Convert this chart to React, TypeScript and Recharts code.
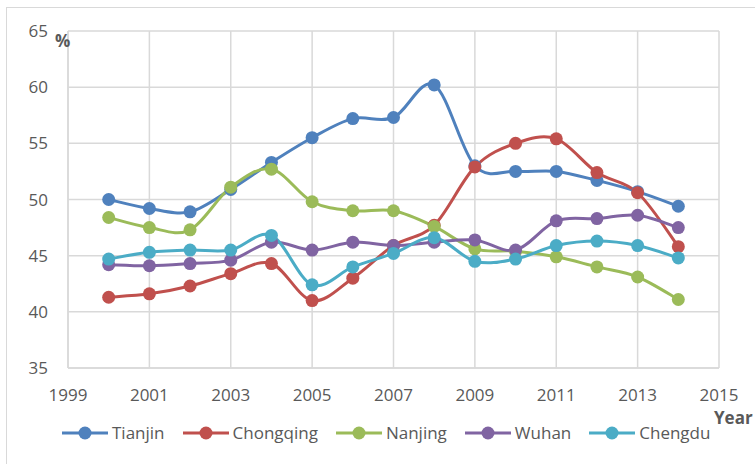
import { LineChart, Line, XAxis, YAxis, CartesianGrid } from 'recharts';

const years = [2000, 2001, 2002, 2003, 2004, 2005, 2006, 2007, 2008, 2009, 2010, 2011, 2012, 2013, 2014];
const tianjin = [50.0, 49.2, 48.9, 50.9, 53.3, 55.5, 57.2, 57.3, 60.2, 53.0, 52.5, 52.5, 51.7, 50.7, 49.4];
const chongqing = [41.3, 41.6, 42.3, 43.4, 44.3, 41.0, 43.0, 45.9, 47.7, 52.9, 55.0, 55.4, 52.4, 50.6, 45.8];
const nanjing = [48.4, 47.5, 47.3, 51.1, 52.7, 49.8, 49.0, 49.0, 47.6, 45.6, 45.4, 44.9, 44.0, 43.1, 41.1];
const wuhan = [44.2, 44.1, 44.3, 44.6, 46.2, 45.5, 46.2, 45.9, 46.2, 46.4, 45.5, 48.1, 48.3, 48.6, 47.5];
const chengdu = [44.7, 45.3, 45.5, 45.5, 46.8, 42.4, 44.0, 45.2, 46.6, 44.5, 44.7, 45.9, 46.3, 45.9, 44.8];

const xTicks = [1999, 2001, 2003, 2005, 2007, 2009, 2011, 2013, 2015];
const yTicks = [35, 40, 45, 50, 55, 60, 65];

const series = [
  { key: 'tianjin', name: 'Tianjin', color: '#4F81BD' },
  { key: 'chongqing', name: 'Chongqing', color: '#C0504D' },
  { key: 'nanjing', name: 'Nanjing', color: '#9BBB59' },
  { key: 'wuhan', name: 'Wuhan', color: '#8064A2' },
  { key: 'chengdu', name: 'Chengdu', color: '#4BACC6' },
];

const data = years.map((year, i) => ({
  year,
  tianjin: tianjin[i],
  chongqing: chongqing[i],
  nanjing: nanjing[i],
  wuhan: wuhan[i],
  chengdu: chengdu[i],
}));

const FONT = '"Open Sans", sans-serif';
const TEXT = '#595959';

// smoothing like Excel: catmull-rom segments through every point
const excelSmooth = (context: any) => {
  let pts: [number, number][] = [];
  return {
    areaStart() {},
    areaEnd() {},
    lineStart() {
      pts = [];
    },
    lineEnd() {
      if (!pts.length) return;
      context.moveTo(pts[0][0], pts[0][1]);
      for (let i = 0; i < pts.length - 1; i++) {
        const p0 = pts[i - 1] || pts[i];
        const p1 = pts[i];
        const p2 = pts[i + 1];
        const p3 = pts[i + 2] || p2;
        context.bezierCurveTo(
          p1[0] + (p2[0] - p0[0]) / 6,
          p1[1] + (p2[1] - p0[1]) / 6,
          p2[0] - (p3[0] - p1[0]) / 6,
          p2[1] - (p3[1] - p1[1]) / 6,
          p2[0],
          p2[1]
        );
      }
    },
    point(x: number, y: number) {
      pts.push([+x, +y]);
    },
  };
};

const App = () => {
  return (
    <div style={{ position: 'absolute', left: 0, top: 0, width: 755, height: 464, overflow: 'hidden', background: '#fff' }}>
      <div style={{ position: 'absolute', left: 6, top: 7, width: 800, height: 500, border: '1.5px solid #D9D9D9' }} />
      <LineChart
        width={755}
        height={464}
        data={data}
        margin={{ top: 31, right: 36, left: 0, bottom: 66 }}
        style={{ position: 'absolute', left: 0, top: 0 }}
      >
        <CartesianGrid stroke="#D9D9D9" strokeWidth={1.5} />
        <XAxis
          dataKey="year"
          type="number"
          domain={[1999, 2015]}
          ticks={xTicks}
          height={30}
          axisLine={{ stroke: '#D9D9D9', strokeWidth: 1.5 }}
          tickLine={false}
          tickSize={0}
          tickMargin={21}
          tick={{ fill: TEXT, fontSize: 17, fontFamily: FONT }}
        />
        <YAxis
          type="number"
          domain={[35, 65]}
          ticks={yTicks}
          width={68}
          axisLine={{ stroke: '#D9D9D9', strokeWidth: 1.5 }}
          tickLine={false}
          tickSize={0}
          tickMargin={20}
          tick={{ fill: TEXT, fontSize: 17, fontFamily: FONT }}
        />
        {series.map((s) => (
          <Line
            key={s.key}
            dataKey={s.key}
            name={s.name}
            type={excelSmooth as any}
            stroke={s.color}
            strokeWidth={3}
            dot={{ r: 6.5, fill: s.color, stroke: s.color, strokeWidth: 0 }}
            isAnimationActive={false}
          />
        ))}
      </LineChart>
      <div style={{ position: 'absolute', left: 55, top: 29, fontFamily: FONT, fontSize: 17, fontWeight: 700, color: TEXT }}>%</div>
      <div style={{ position: 'absolute', left: 714, top: 406, fontFamily: FONT, fontSize: 17, fontWeight: 700, color: TEXT }}>Year</div>
      <div style={{ position: 'absolute', left: 62, top: 421, display: 'flex', gap: 18, alignItems: 'center', fontFamily: FONT, fontSize: 17, color: TEXT }}>
        {series.map((s) => (
          <div key={s.key} style={{ display: 'flex', alignItems: 'center' }}>
            <svg width={46} height={16}>
              <line x1={0} y1={8} x2={46} y2={8} stroke={s.color} strokeWidth={3} />
              <circle cx={23} cy={8} r={6.5} fill={s.color} />
            </svg>
            <span style={{ marginLeft: 4 }}>{s.name}</span>
          </div>
        ))}
      </div>
    </div>
  );
};

export default App;
